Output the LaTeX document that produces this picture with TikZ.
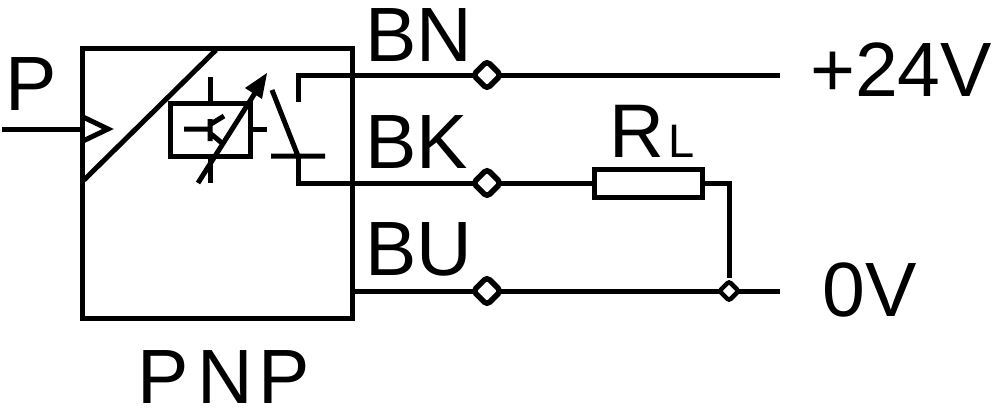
\documentclass[tikz,border=0pt]{standalone}
\usepackage{fontspec}
\setmainfont{Liberation Sans}
\usetikzlibrary{shapes.geometric,calc}
\newcommand{\fs}[1]{\fontsize{#1}{#1}\selectfont}
\tikzset{
  wire/.style={line width=5pt,line join=miter},
  reach start/.style={shorten <=-4pt},
  reach end/.style={shorten >=-4pt},
  lbl/.style={inner sep=0pt,anchor=base west,text=black},
  termbig/.style={diamond,draw,line width=5.5pt,fill=white,minimum width=30pt,minimum height=30pt,inner sep=0pt,rounded corners=4pt},
  termsmall/.style={diamond,draw,line width=4.5pt,fill=white,minimum width=21pt,minimum height=21pt,inner sep=0pt,rounded corners=2.5pt},
  blockbox/.style={draw,line width=5pt,inner sep=0pt},
}
\begin{document}
\begin{tikzpicture}[x=1pt,y=-1pt]
\useasboundingbox[fill=white] (0,0) rectangle (1000,412);
% main block
\node[blockbox,minimum width=269.5pt,minimum height=269pt] (block) at (217.25,183.5) {};
\coordinate (pin) at (2,129);
\draw[wire] (pin) -- (pin -| block.west);
\coordinate (tA) at (83,117);
\coordinate (tB) at (108,129);
\coordinate (tC) at (83,141);
\draw[wire] (tA) -- (tB) -- (tC);
\coordinate (dA) at (216,50);
\coordinate (dB) at (84,180);
\draw[wire] (dA) -- (dB);
% inner amplifier
\node[blockbox,line width=5pt,minimum width=80.5pt,minimum height=53.5pt] (amp) at (210.7,130) {};
\coordinate (s1) at (210,77);
\coordinate (s2) at (210,103);
\coordinate (s3) at (210,156);
\coordinate (s4) at (210,183);
\coordinate (s5) at (251,129);
\coordinate (s6) at (267,129);
\draw[wire] (s1) -- (s2) (s3) -- (s4) (s5) -- (s6);
\coordinate (b1) at (184,129);
\coordinate (b2) at (210,129);
\coordinate (b3) at (210,119);
\coordinate (b4) at (210,141);
\coordinate (b5) at (211,124);
\coordinate (b6) at (224,116);
\coordinate (b7) at (211,134);
\coordinate (b8) at (222,143);
\draw[wire] (b1) -- (b2) (b3) -- (b4) (b5) -- (b6) (b7) -- (b8);
% adjust arrow
\coordinate (a1) at (198,183);
\coordinate (a2) at (255,93);
\coordinate (a3) at (267,73);
\coordinate (a4) at (245,88);
\coordinate (a5) at (262,99);
\draw[wire] (a1) -- (a2);
\fill (a3) -- (a4) -- (a5) -- cycle;
% switch
\coordinate (k1) at (272,90);
\coordinate (k2) at (298,156);
\coordinate (k3) at (271,156);
\coordinate (k4) at (325,156);
\draw[wire] (k1) -- (k2) (k3) -- (k4);
% terminals
\node[termbig] (tn) at (487,75) {};
\node[termbig] (tk) at (487,183) {};
\node[termbig] (tu) at (487,291) {};
\node[termsmall] (tj) at (729,291) {};
\coordinate (sw1) at (298,102);
\coordinate (sw2) at (298,75);
\coordinate (sw3) at (298,183);
\coordinate (e1) at (780,75);
\coordinate (e3) at (780,291);
\coordinate (rc) at (729,183);
\draw[wire,reach end] (sw1) -- (sw2) -- (tn);
\draw[wire,reach start] (tn) -- (e1);
\draw[wire,reach end] (k2) -- (sw3) -- (tk);
\node[blockbox,minimum width=108pt,minimum height=28pt] (res) at (648.5,183) {};
\draw[wire,reach start] (tk) -- (res);
\draw[wire] (res) -- (rc) -- (tj);
\draw[wire,reach end] (tu -| block.east) -- (tu);
\draw[wire,reach start,reach end] (tu) -- (tj);
\draw[wire,reach start] (tj) -- (e3);
% labels
\node[lbl,font=\fs{77}] (lP) at (5,110) {P};
\node[lbl,font=\fs{77}] (lBN) at (365,61) {BN};
\node[lbl,font=\fs{77}] (lBK) at (365,168) {BK};
\node[lbl,font=\fs{77}] (lBU) at (365,275) {BU};
\node[lbl,font=\fs{76}] (lR) at (609,157) {R};
\node[lbl,font=\fs{47}] (lL) at (668,157) {L};
\node[lbl,font=\fs{77}] (l24) at (810,96) {+24V};
\node[lbl,font=\fs{77}] (l0) at (822,316) {0V};
\node[lbl,font=\fs{77}] (lPNP) at (137,403) {P\kern9pt N\kern5pt P};
\end{tikzpicture}
\end{document}
